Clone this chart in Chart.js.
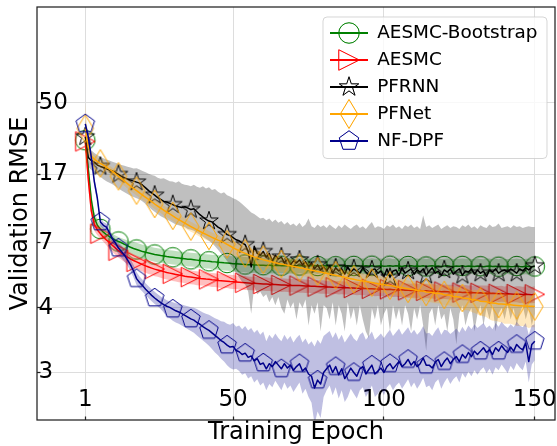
<!DOCTYPE html>
<html><head><meta charset="utf-8">
<script src="https://cdn.jsdelivr.net/npm/chart.js@4.4.1/dist/chart.umd.min.js"></script>
<style>html,body{margin:0;padding:0;background:#fff;}canvas{display:block;}</style>
</head><body>
<canvas id="c" width="557" height="446" style="width:557px;height:446px"></canvas>
<script>
// ---------------- data ----------------
const EPOCHS = Array.from({length: 150}, (_, i) => i + 1);
const X_TICKS = [1, 50, 100, 150];
const X_TICK_LABELS = ['1', '50', '100', '150'];
const Y_TICKS = [3, 4, 7, 17, 50];
const Y_TICK_LABELS = ['3', '4', '7', '17', '50'];

const BOOT_MEAN = [
 28.5,18.5,12.2,9.7,8.8,8.4,8.05,7.8,7.6,7.42,
 7.27,7.14,7.02,6.92,6.83,6.75,6.68,6.62,6.56,6.5,
 6.46,6.42,6.38,6.34,6.31,6.28,6.26,6.23,6.21,6.19,
 6.17,6.15,6.13,6.11,6.09,6.08,6.06,6.04,6.02,6.01,
 5.99,5.98,5.96,5.95,5.93,5.92,5.9,5.89,5.88,5.86,
 5.85,5.84,5.83,5.82,5.81,5.8,5.8,5.79,5.78,5.78,
 5.77,5.79,5.76,5.77,5.78,5.76,5.77,5.75,5.77,5.76,
 5.75,5.77,5.76,5.74,5.76,5.75,5.77,5.74,5.75,5.76,
 5.74,5.76,5.75,5.73,5.75,5.76,5.74,5.75,5.73,5.75,
 5.76,5.74,5.73,5.75,5.74,5.76,5.73,5.74,5.75,5.73,
 5.74,5.76,5.73,5.75,5.74,5.72,5.75,5.74,5.76,5.73,
 5.74,5.73,5.75,5.72,5.74,5.75,5.73,5.74,5.72,5.74,
 5.75,5.73,5.72,5.74,5.73,5.75,5.72,5.74,5.73,5.72,
 5.74,5.73,5.71,5.73,5.74,5.72,5.73,5.71,5.73,5.72,
 5.73,5.71,5.72,5.74,5.72,5.71,5.73,5.72,5.71,5.72];
const BOOT_SPREAD = [
 2.4,1.8,1.1,0.8,0.65,0.55,0.5,0.48,0.46,0.45,
 0.44,0.43,0.42,0.42,0.41,0.41,0.4,0.4,0.4,0.39,
 0.39,0.39,0.38,0.38,0.38,0.38,0.37,0.37,0.37,0.37,
 0.37,0.36,0.37,0.36,0.37,0.36,0.36,0.37,0.36,0.36,
 0.37,0.36,0.36,0.37,0.37,0.38,0.37,0.38,0.38,0.39,
 0.38,0.39,0.38,0.39,0.38,0.39,0.38,0.38,0.39,0.38,
 0.38,0.39,0.38,0.38,0.39,0.38,0.37,0.38,0.39,0.38,
 0.38,0.37,0.38,0.39,0.38,0.37,0.38,0.38,0.37,0.38,
 0.39,0.38,0.37,0.38,0.38,0.39,0.38,0.37,0.38,0.38,
 0.37,0.38,0.39,0.38,0.37,0.38,0.38,0.39,0.38,0.37,
 0.38,0.38,0.37,0.38,0.39,0.38,0.37,0.38,0.38,0.39,
 0.38,0.37,0.38,0.38,0.39,0.38,0.37,0.38,0.38,0.37,
 0.38,0.39,0.38,0.37,0.38,0.38,0.39,0.38,0.37,0.38,
 0.38,0.37,0.38,0.39,0.38,0.37,0.38,0.38,0.39,0.38,
 0.37,0.38,0.38,0.39,0.38,0.37,0.38,0.39,0.38,0.38];

const AESMC_MEAN = [
 28.0,16.0,10.6,8.9,8.3,7.9,7.55,7.28,7.05,6.86,
 6.7,6.55,6.42,6.3,6.2,6.1,6.02,5.95,5.88,5.81,
 5.75,5.69,5.64,5.59,5.55,5.51,5.47,5.43,5.4,5.37,
 5.34,5.31,5.29,5.26,5.24,5.22,5.2,5.18,5.16,5.15,
 5.13,5.12,5.1,5.09,5.07,5.06,5.05,5.04,5.02,5.01,
 5.0,4.99,4.98,4.97,4.96,4.95,4.95,4.94,4.93,4.92,
 4.92,4.91,4.9,4.9,4.89,4.88,4.88,4.87,4.86,4.86,
 4.85,4.85,4.84,4.83,4.83,4.82,4.82,4.81,4.8,4.8,
 4.79,4.79,4.78,4.78,4.77,4.77,4.76,4.76,4.75,4.75,
 4.74,4.74,4.73,4.73,4.72,4.72,4.71,4.71,4.7,4.7,
 4.69,4.7,4.68,4.68,4.67,4.68,4.66,4.66,4.65,4.66,
 4.64,4.65,4.63,4.64,4.62,4.63,4.61,4.62,4.6,4.61,
 4.6,4.59,4.6,4.58,4.59,4.57,4.58,4.56,4.57,4.56,
 4.55,4.56,4.54,4.55,4.53,4.54,4.53,4.52,4.53,4.51,
 4.52,4.51,4.5,4.51,4.5,4.49,4.5,4.49,4.48,4.5];
const AESMC_SPREAD = [
 2.2,1.6,1.0,0.7,0.55,0.48,0.44,0.42,0.4,0.39,
 0.38,0.37,0.36,0.36,0.35,0.35,0.34,0.34,0.34,0.33,
 0.33,0.33,0.32,0.33,0.32,0.32,0.33,0.32,0.31,0.32,
 0.31,0.32,0.31,0.31,0.32,0.31,0.3,0.31,0.31,0.3,
 0.31,0.3,0.31,0.3,0.3,0.31,0.3,0.29,0.3,0.3,
 0.29,0.3,0.29,0.3,0.29,0.29,0.3,0.29,0.29,0.28,
 0.29,0.28,0.29,0.29,0.28,0.29,0.28,0.28,0.29,0.28,
 0.28,0.29,0.28,0.28,0.27,0.28,0.28,0.27,0.28,0.28,
 0.27,0.28,0.28,0.27,0.28,0.27,0.27,0.28,0.27,0.27,
 0.28,0.27,0.27,0.28,0.27,0.27,0.28,0.27,0.27,0.28,
 0.27,0.28,0.28,0.27,0.28,0.28,0.27,0.28,0.28,0.29,
 0.28,0.28,0.29,0.28,0.28,0.29,0.29,0.28,0.29,0.29,
 0.29,0.3,0.29,0.29,0.3,0.29,0.3,0.3,0.29,0.3,
 0.3,0.3,0.31,0.3,0.3,0.31,0.3,0.31,0.31,0.3,
 0.31,0.31,0.3,0.31,0.32,0.31,0.31,0.32,0.31,0.32];

const PFRNN_MEAN = [
 30.0,22.0,21.0,20.5,19.6,19.2,18.9,18.5,18.2,17.9,
 17.5,17.0,16.6,16.3,16.0,15.8,15.6,15.4,15.2,14.8,
 14.3,13.8,13.4,13.0,12.6,12.3,12.0,11.9,11.7,11.5,
 11.3,11.2,11.1,11.2,11.0,10.8,10.9,10.5,10.1,9.8,
 9.5,9.3,9.2,8.9,8.6,8.4,8.1,7.8,7.7,7.5,
 7.3,7.2,7.0,6.9,6.5,5.7,6.8,6.4,6.3,6.5,
 6.2,6.4,6.0,6.3,6.1,6.2,5.9,6.1,5.8,6.0,
 5.9,6.05,5.8,5.95,5.7,5.9,5.6,5.8,5.55,5.7,
 5.5,5.75,5.4,5.65,5.5,5.6,5.35,5.7,5.45,5.6,
 5.5,5.4,5.65,5.45,5.3,5.55,5.6,5.4,5.5,5.25,
 5.6,5.2,5.5,5.55,5.3,5.65,5.4,5.5,5.6,5.35,
 5.55,5.45,5.6,5.3,5.5,5.65,5.4,5.5,5.3,5.55,
 5.45,5.6,5.35,5.5,5.6,5.3,5.5,5.45,5.6,5.35,
 5.55,5.4,5.5,5.25,5.55,5.45,5.6,5.4,5.5,5.55,
 5.45,5.6,5.5,5.4,5.6,5.5,5.65,5.55,5.7,5.75];
const PFRNN_LO = [
 27.0,19.0,18.2,17.6,17.0,16.5,16.0,15.6,15.3,15.0,
 14.6,14.2,13.8,13.5,13.2,12.9,12.7,12.5,12.3,12.0,
 11.6,11.2,10.8,10.5,10.2,9.9,9.7,9.5,9.3,9.1,
 8.9,8.8,8.7,8.6,8.4,8.3,8.2,8.0,7.8,7.6,
 7.4,7.2,7.0,6.8,6.6,6.4,6.2,6.0,5.8,5.6,
 5.4,5.2,5.0,4.9,4.6,3.9,4.8,4.5,4.6,4.4,
 4.5,4.2,4.4,4.1,4.4,4.0,3.9,4.3,4.0,4.2,
 3.8,4.2,4.0,4.3,3.7,4.1,3.9,4.2,3.6,4.1,
 4.0,3.8,4.2,3.7,4.1,3.9,3.6,4.2,3.8,4.0,
 3.7,4.1,3.8,3.6,3.5,4.0,3.8,4.1,3.7,3.9,
 4.0,3.6,4.1,3.8,4.0,3.7,4.1,3.9,3.6,4.0,
 3.8,4.1,3.7,3.3,3.9,4.0,3.7,4.1,3.8,3.9,
 3.6,4.0,3.8,3.4,3.9,4.1,3.7,3.9,4.0,3.6,
 3.9,4.1,3.7,4.0,3.8,4.1,3.6,3.9,4.0,3.8,
 4.1,3.8,4.0,3.7,3.9,4.1,3.8,4.0,3.7,3.9];
const PFRNN_HI = [
 33.0,26.0,24.5,23.5,22.8,22.2,21.7,21.3,21.0,20.6,
 20.3,20.0,19.6,19.4,19.1,18.9,18.6,18.7,18.3,17.9,
 17.6,17.2,16.9,16.7,16.3,16.1,16.2,15.9,15.6,15.5,
 15.3,15.6,15.1,14.9,14.8,14.6,14.9,14.5,14.3,14.6,
 14.2,14.4,13.9,14.1,13.6,13.3,13.5,13.0,12.8,12.5,
 12.3,12.0,11.6,11.2,10.8,10.4,10.2,9.9,9.6,9.7,
 9.4,9.6,9.2,9.5,9.1,9.3,8.9,9.2,8.8,9.0,
 8.7,9.1,8.6,8.9,9.6,8.7,8.5,8.9,8.6,8.8,
 8.5,8.9,8.6,8.4,8.8,8.5,8.9,8.6,8.4,8.7,
 8.9,8.5,8.7,8.4,8.8,9.2,8.5,8.7,8.6,8.4,
 8.8,8.6,8.9,8.5,8.7,8.4,8.8,8.6,8.9,8.5,
 8.7,8.4,10.0,8.6,8.8,8.5,8.7,8.9,8.4,8.6,
 8.8,8.5,8.7,8.6,8.4,8.8,8.6,8.9,8.5,8.7,
 8.4,8.8,8.6,8.5,8.9,8.6,8.7,9.0,8.5,8.6,
 8.7,8.5,8.8,8.6,8.7,8.5,8.6,8.7,8.6,8.6];

const PFNET_MEAN = [
 34.0,26.0,22.5,21.4,20.7,20.1,19.6,19.0,18.4,17.8,
 17.2,16.6,16.1,15.6,15.1,14.6,14.2,13.8,13.4,13.0,
 12.65,12.3,11.95,11.6,11.3,11.0,10.7,10.45,10.2,9.95,
 9.7,9.48,9.26,9.05,8.85,8.66,8.48,8.3,8.13,7.97,
 7.82,7.67,7.53,7.4,7.27,7.15,7.03,6.92,6.82,6.72,
 6.63,6.55,6.47,6.4,6.33,6.27,6.21,6.16,6.11,6.06,
 6.02,5.98,5.94,5.9,5.87,5.84,5.81,5.78,5.75,5.72,
 5.69,5.66,5.63,5.6,5.57,5.54,5.51,5.48,5.45,5.42,
 5.39,5.36,5.33,5.3,5.27,5.24,5.21,5.18,5.15,5.12,
 5.09,5.07,5.05,5.02,5.0,4.98,4.95,4.93,4.91,4.89,
 4.87,4.85,4.83,4.8,4.78,4.76,4.74,4.72,4.7,4.68,
 4.66,4.63,4.63,4.59,4.58,4.57,4.54,4.53,4.52,4.48,
 4.47,4.46,4.42,4.41,4.4,4.36,4.35,4.34,4.3,4.29,
 4.28,4.24,4.23,4.22,4.19,4.18,4.17,4.14,4.14,4.13,
 4.12,4.11,4.1,4.09,4.08,4.07,4.07,4.06,4.06,4.05];
const PFNET_SPREAD = [
 16.0,2.4,1.6,1.4,1.3,1.25,1.2,1.15,1.1,1.05,
 1.02,1.0,0.97,0.94,0.92,0.9,0.88,0.86,0.84,0.82,
 0.8,0.78,0.76,0.74,0.72,0.7,0.68,0.67,0.65,0.64,
 0.62,0.61,0.6,0.58,0.57,0.56,0.55,0.54,0.53,0.52,
 0.51,0.5,0.49,0.48,0.47,0.46,0.46,0.45,0.44,0.44,
 0.43,0.42,0.42,0.41,0.41,0.4,0.4,0.39,0.39,0.39,
 0.38,0.38,0.38,0.37,0.37,0.37,0.37,0.36,0.36,0.36,
 0.36,0.37,0.35,0.36,0.35,0.34,0.35,0.36,0.35,0.34,
 0.35,0.34,0.33,0.34,0.35,0.34,0.33,0.34,0.35,0.34,
 0.33,0.34,0.35,0.34,0.33,0.34,0.35,0.36,0.35,0.34,
 0.35,0.36,0.35,0.34,0.35,0.36,0.37,0.36,0.35,0.36,
 0.37,0.36,0.35,0.36,0.37,0.38,0.37,0.36,0.37,0.38,
 0.37,0.38,0.39,0.38,0.37,0.38,0.39,0.38,0.37,0.38,
 0.39,0.38,0.37,0.38,0.39,0.4,0.39,0.38,0.39,0.4,
 0.39,0.38,0.39,0.4,0.39,0.38,0.39,0.4,0.39,0.38];

const NFDPF_MEAN = [
 36.5,30.0,22.0,15.5,12.5,9.2,8.8,8.6,8.0,7.4,
 7.0,6.7,6.5,6.3,6.05,5.8,5.5,5.15,4.98,4.85,
 4.7,4.58,4.46,4.36,4.27,4.19,4.12,4.06,4.02,3.98,
 3.95,3.93,3.9,3.87,3.84,3.81,3.79,3.75,3.72,3.68,
 3.65,3.62,3.58,3.54,3.5,3.46,3.43,3.39,3.36,3.37,
 3.31,3.29,3.25,3.27,3.21,3.23,3.16,3.19,3.11,3.13,
 3.05,3.12,3.08,3.15,3.1,3.05,3.12,3.06,3.1,3.03,
 3.08,3.12,3.02,3.06,2.98,2.95,2.8,2.9,2.85,3.0,
 3.05,3.1,3.0,3.08,2.97,3.05,2.92,2.98,3.06,3.0,
 2.95,3.05,3.08,2.98,3.04,3.1,2.98,3.02,3.06,3.0,
 3.08,3.12,3.05,3.1,3.15,3.08,3.12,3.18,3.1,3.15,
 3.08,3.12,3.2,3.1,3.1,3.06,3.14,3.18,3.08,3.15,
 3.2,3.12,3.18,3.22,3.15,3.25,3.2,3.28,3.22,3.3,
 3.25,3.3,3.35,3.28,3.32,3.25,3.35,3.3,3.38,3.32,
 3.28,3.36,3.3,3.4,3.35,3.32,3.42,3.15,3.4,3.45];
const NFDPF_LO = [
 34.5,28.0,20.5,14.5,11.8,8.7,8.4,8.2,7.6,7.0,
 6.65,6.35,6.15,5.95,5.75,5.5,5.2,4.88,4.72,4.6,
 4.46,4.35,4.24,4.14,4.06,3.98,3.92,3.86,3.82,3.78,
 3.75,3.73,3.7,3.67,3.64,3.61,3.58,3.54,3.5,3.46,
 3.42,3.38,3.33,3.28,3.24,3.19,3.15,3.1,3.06,3.04,
 3.05,3.02,2.97,2.99,2.92,2.95,2.87,2.91,2.83,2.87,
 2.77,2.85,2.81,2.89,2.83,2.77,2.87,2.79,2.83,2.75,
 2.81,2.87,2.73,2.79,2.69,2.62,2.38,2.52,2.45,2.69,
 2.77,2.83,2.71,2.81,2.67,2.77,2.63,2.69,2.79,2.73,
 2.67,2.77,2.81,2.69,2.75,2.83,2.69,2.73,2.79,2.71,
 2.81,2.85,2.77,2.83,2.87,2.79,2.85,2.91,2.81,2.87,
 2.79,2.85,2.93,2.81,2.83,2.77,2.87,2.91,2.79,2.87,
 2.93,2.85,2.91,2.95,2.87,2.99,2.93,3.01,2.95,3.03,
 2.97,3.03,3.07,2.99,3.05,2.97,3.07,3.03,3.11,3.05,
 2.99,3.09,3.03,3.13,3.07,3.03,3.15,2.87,3.11,3.17];
const NFDPF_HI = [
 38.5,32.0,23.5,16.5,13.2,9.7,9.2,9.0,8.4,7.8,
 7.35,7.05,6.85,6.6,6.35,6.1,5.8,5.45,5.25,5.1,
 4.95,4.82,4.7,4.6,4.5,4.42,4.35,4.28,4.24,4.2,
 4.17,4.15,4.12,4.09,4.06,4.03,4.01,3.98,3.95,3.92,
 3.9,3.88,3.85,3.82,3.8,3.77,3.76,3.73,3.71,3.74,
 3.68,3.7,3.64,3.69,3.62,3.66,3.58,3.63,3.55,3.6,
 3.45,3.55,3.49,3.57,3.5,3.45,3.55,3.47,3.53,3.43,
 3.5,3.55,3.43,3.49,3.4,3.45,3.37,3.47,3.41,3.53,
 3.57,3.61,3.5,3.59,3.47,3.55,3.43,3.5,3.57,3.49,
 3.45,3.55,3.59,3.47,3.53,3.6,3.47,3.52,3.57,3.5,
 3.57,3.63,3.53,3.59,3.65,3.55,3.61,3.67,3.57,3.63,
 3.55,3.6,3.69,3.57,3.58,3.53,3.61,3.67,3.55,3.63,
 3.62,3.56,3.6,3.65,3.58,3.68,3.6,3.7,3.64,3.72,
 3.66,3.7,3.74,3.66,3.7,3.64,3.74,3.68,3.76,3.7,
 3.66,3.72,3.67,3.76,3.7,3.67,3.74,3.55,3.7,3.72];

// ---------------- axis transform (tick values -> axis positions) ----------------
const Y_KNOT_POS = [0, 0.2393, 0.4805, 0.7347, 1.0];
const Y_RANGE = [-0.1763, 1.3562];
const Y_KNOT_LOG = Y_TICKS.map(Math.log);
function yPos(v) {
  const L = Math.log(v);
  const K = Y_KNOT_LOG;
  let i = 0;
  if (L >= K[K.length - 1]) i = K.length - 2;
  else if (L > K[0]) { while (L > K[i + 1]) i++; }
  const t = (L - K[i]) / (K[i + 1] - K[i]);
  return Y_KNOT_POS[i] + t * (Y_KNOT_POS[i + 1] - Y_KNOT_POS[i]);
}

// ---------------- styling ----------------
const FONT = '"DejaVu Sans", sans-serif';
const MARK_SIZE = 19.5;
Chart.defaults.font.family = FONT;
Chart.defaults.color = '#000';

function shapePath(g, shape, cx, cy, S) {
  const R = S / 2;
  g.beginPath();
  if (shape === 'circle') {
    g.arc(cx, cy, R, 0, Math.PI * 2);
  } else if (shape === 'triangleRight') {
    g.moveTo(cx + R, cy); g.lineTo(cx - R, cy - R); g.lineTo(cx - R, cy + R); g.closePath();
  } else if (shape === 'star') {
    for (let k = 0; k < 10; k++) {
      const a = -Math.PI / 2 + k * Math.PI / 5;
      const r = (k % 2) ? R * 0.381966 : R;
      const px = cx + r * Math.cos(a), py = cy + r * Math.sin(a);
      if (k) g.lineTo(px, py); else g.moveTo(px, py);
    }
    g.closePath();
  } else if (shape === 'thinDiamond') {
    const h = S * Math.SQRT1_2, w = h * 0.6;
    g.moveTo(cx, cy - h); g.lineTo(cx + w, cy); g.lineTo(cx, cy + h); g.lineTo(cx - w, cy); g.closePath();
  } else if (shape === 'pentagon') {
    for (let k = 0; k < 5; k++) {
      const a = -Math.PI / 2 + k * 2 * Math.PI / 5;
      const px = cx + R * Math.cos(a), py = cy + R * Math.sin(a);
      if (k) g.lineTo(px, py); else g.moveTo(px, py);
    }
    g.closePath();
  }
}
function makeMarker(shape, color) {
  const c = document.createElement('canvas'); c.width = 36; c.height = 36;
  const g = c.getContext('2d');
  g.lineWidth = 1.0; g.strokeStyle = color;
  shapePath(g, shape, 18, 18, MARK_SIZE); g.stroke();
  return c;
}
function makeLegendIcon(shape, color) {
  const c = document.createElement('canvas'); c.width = 38; c.height = 36;
  const g = c.getContext('2d');
  g.strokeStyle = color; g.lineWidth = 1.8;
  g.beginPath(); g.moveTo(0, 18); g.lineTo(38, 18); g.stroke();
  g.lineWidth = 1.0; shapePath(g, shape, 19, 18, MARK_SIZE + 1); g.stroke();
  return c;
}
const isMark = i => (i === 0 || (i + 1) % 6 === 0);

const SERIES = [
  { name: 'AESMC-Bootstrap', color: '#008000', band: 'rgba(0,128,0,0.25)', shape: 'circle',
    mean: BOOT_MEAN, lo: BOOT_MEAN.map((m, i) => m - BOOT_SPREAD[i]), hi: BOOT_MEAN.map((m, i) => m + BOOT_SPREAD[i]) },
  { name: 'AESMC', color: '#ff0000', band: 'rgba(255,0,0,0.25)', shape: 'triangleRight',
    mean: AESMC_MEAN, lo: AESMC_MEAN.map((m, i) => m - AESMC_SPREAD[i]), hi: AESMC_MEAN.map((m, i) => m + AESMC_SPREAD[i]) },
  { name: 'PFRNN', color: '#000000', band: 'rgba(0,0,0,0.25)', shape: 'star',
    mean: PFRNN_MEAN, lo: PFRNN_LO, hi: PFRNN_HI },
  { name: 'PFNet', color: '#ffa500', band: 'rgba(255,165,0,0.25)', shape: 'thinDiamond',
    mean: PFNET_MEAN, lo: PFNET_MEAN.map((m, i) => m - PFNET_SPREAD[i]), hi: PFNET_MEAN.map((m, i) => m + PFNET_SPREAD[i]) },
  { name: 'NF-DPF', color: '#00008b', band: 'rgba(0,0,139,0.25)', shape: 'pentagon',
    mean: NFDPF_MEAN, lo: NFDPF_LO, hi: NFDPF_HI }
];

const toPts = arr => arr.map((v, i) => ({ x: EPOCHS[i], y: yPos(v) }));
const datasets = [];
SERIES.forEach(s => {
  datasets.push({ label: s.name + ' lower', data: toPts(s.lo), borderWidth: 0, borderColor: 'rgba(0,0,0,0)',
    pointRadius: 0, fill: false, clip: 0 });
  datasets.push({ label: s.name + ' upper', data: toPts(s.hi), borderWidth: 0, borderColor: 'rgba(0,0,0,0)',
    backgroundColor: s.band, pointRadius: 0, fill: '-1', clip: 0 });
  s.lineIndex = datasets.length;
  s.legendIcon = makeLegendIcon(s.shape, s.color);
  datasets.push({ label: s.name, data: toPts(s.mean), borderColor: s.color, borderWidth: 1.5,
    pointStyle: makeMarker(s.shape, s.color), pointRadius: ctx => isMark(ctx.dataIndex) ? 10 : 0,
    pointHoverRadius: 0, pointHitRadius: 0, fill: false, tension: 0,
    borderJoinStyle: 'round', clip: 0 });
});
datasets.forEach((d, i) => { d.order = datasets.length - i; });

function roundRect(ctx, x, y, w, h, r) {
  ctx.beginPath();
  ctx.moveTo(x + r, y); ctx.lineTo(x + w - r, y); ctx.arcTo(x + w, y, x + w, y + r, r);
  ctx.lineTo(x + w, y + h - r); ctx.arcTo(x + w, y + h, x + w - r, y + h, r);
  ctx.lineTo(x + r, y + h); ctx.arcTo(x, y + h, x, y + h - r, r);
  ctx.lineTo(x, y + r); ctx.arcTo(x, y, x + r, y, r); ctx.closePath();
}

const LEGEND_BOX = { w: 224, h: 141.5, right: 8, top: 10, padX: 1.6, padY: 1.8 };
const mplPlugin = {
  id: 'mplLook',
  afterLayout(chart) {
    const lg = chart.legend, a = chart.chartArea;
    if (!lg) return;
    const bx = a.right - LEGEND_BOX.right - LEGEND_BOX.w;
    const by = a.top + LEGEND_BOX.top;
    const w = lg.width, h = lg.height;
    lg.left = bx - LEGEND_BOX.padX; lg.top = by - LEGEND_BOX.padY;
    lg.right = lg.left + w; lg.bottom = lg.top + h;
  },
  afterDraw(chart) {
    const ctx = chart.ctx, a = chart.chartArea, lg = chart.legend;
    ctx.save();
    ctx.strokeStyle = '#222'; ctx.lineWidth = 1.25;
    ctx.strokeRect(a.left, a.top, a.right - a.left, a.bottom - a.top);
    ctx.restore();
    if (lg) {
      ctx.save();
      roundRect(ctx, lg.left + LEGEND_BOX.padX, lg.top + LEGEND_BOX.padY, LEGEND_BOX.w, LEGEND_BOX.h, 4);
      ctx.fillStyle = 'rgba(255,255,255,0.8)'; ctx.fill();
      ctx.strokeStyle = 'rgba(204,204,204,0.8)'; ctx.lineWidth = 1; ctx.stroke();
      ctx.restore();
      lg.draw();
    }
  }
};

new Chart(document.getElementById('c'), {
  type: 'line',
  data: { datasets },
  plugins: [mplPlugin],
  options: {
    responsive: false, animation: false, devicePixelRatio: 1, events: [],
    layout: { padding: { left: 0, top: 7, right: 2, bottom: 0 }, autoPadding: false },
    plugins: {
      tooltip: { enabled: false },
      filler: { propagate: false },
      legend: {
        display: true, position: 'chartArea', align: 'start',
        labels: {
          usePointStyle: true, pointStyleWidth: 38, padding: 8.6,
          font: { family: FONT, size: 18.4 }, color: '#000',
          generateLabels: () => SERIES.map(s => ({
            text: s.name, pointStyle: s.legendIcon, fillStyle: 'rgba(0,0,0,0)',
            strokeStyle: 'rgba(0,0,0,0)', lineWidth: 0, hidden: false, datasetIndex: s.lineIndex, fontColor: '#000'
          }))
        }
      }
    },
    scales: {
      x: {
        type: 'linear', min: -15, max: 156.7,
        afterBuildTicks: s => { s.ticks = X_TICKS.map(v => ({ value: v })); },
        ticks: { mirror: true, padding: 0, autoSkip: false, maxRotation: 0, minRotation: 0,
          font: { family: FONT, size: 23, lineHeight: 1.74 }, color: '#000',
          callback: (v, i) => X_TICK_LABELS[i] },
        grid: { color: '#dddddd', lineWidth: 1, drawTicks: true, tickLength: -3.5, tickColor: '#222', tickWidth: 1.25 },
        border: { display: false },
        title: { display: true, text: 'Training Epoch', color: '#000',
          font: { family: FONT, size: 24, lineHeight: 1.0 }, padding: { top: 4, bottom: 1.5 } }
      },
      y: {
        type: 'linear', min: Y_RANGE[0], max: Y_RANGE[1],
        afterBuildTicks: s => { s.ticks = Y_TICKS.map(v => ({ value: yPos(v) })); },
        ticks: { mirror: true, padding: 1.5, autoSkip: false,
          font: { family: FONT, size: 23, lineHeight: 0.4 }, color: '#000',
          callback: (v, i) => Y_TICK_LABELS[i] },
        grid: { color: '#dddddd', lineWidth: 1, drawTicks: true, tickLength: -3.5, tickColor: '#222', tickWidth: 1.25 },
        border: { display: false },
        title: { display: true, text: 'Validation RMSE', color: '#000',
          font: { family: FONT, size: 24, lineHeight: 1.2 }, padding: { top: 6.5, bottom: 2.2 } }
      }
    }
  }
});
</script>
</body></html>
